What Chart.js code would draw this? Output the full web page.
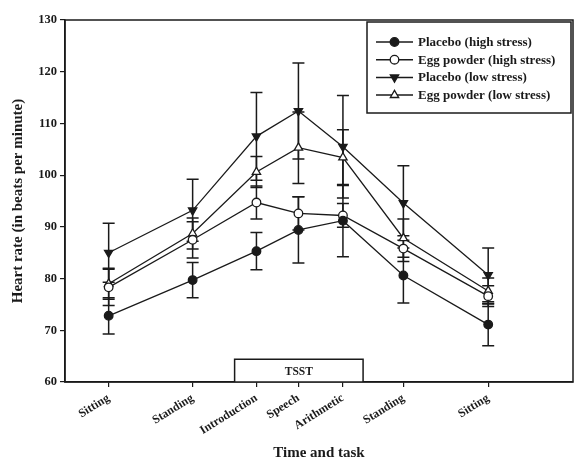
<!DOCTYPE html>
<html>
<head>
<meta charset="utf-8">
<script src="https://cdn.jsdelivr.net/npm/chart.js@4.4.0/dist/chart.umd.min.js"></script>
<style>
  html, body { margin: 0; padding: 0; background: #fff; }
  #wrap { width: 575px; height: 463px; }
</style>
</head>
<body>
<div id="wrap"><canvas id="c" width="575" height="463"></canvas></div>
<script>
// ---- data ----
const categories = ["Sitting", "Standing", "Introduction", "Speech", "Arithmetic", "Standing", "Sitting"];
const xPositions = [1, 2, 2.76, 3.26, 3.79, 4.51, 5.52];
const seriesNames = ["Placebo (high stress)", "Egg powder (high stress)", "Placebo (low stress)", "Egg powder (low stress)"];
const placeboHigh = [72.8, 79.7, 85.3, 89.4, 91.2, 80.6, 71.1];
const placeboHighErr = [3.5, 3.4, 3.6, 6.4, 7.0, 5.3, 4.1];
const eggHigh = [78.3, 87.5, 94.7, 92.6, 92.2, 85.8, 76.6];
const eggHighErr = [3.5, 3.5, 3.2, 3.2, 2.3, 2.5, 2.0];
const placeboLow = [85.0, 93.2, 107.5, 112.4, 105.5, 94.6, 80.7];
const placeboLowErr = [5.7, 6.0, 8.5, 9.3, 9.9, 7.2, 5.2];
const eggLow = [79.0, 88.7, 100.6, 105.3, 103.4, 87.8, 77.6];
const eggLowErr = [3.0, 3.0, 3.0, 6.9, 5.4, 3.7, 2.5];
const yTicks = [60, 70, 80, 90, 100, 110, 120, 130];
const tsstRange = [2.5, 4.03];
const tsstTop = 64.4;

const FONT = "'Liberation Serif', 'Times New Roman', serif";
const INK = '#1a1a1a';

function toPts(vals) { return xPositions.map((x, i) => ({ x: x, y: vals[i] })); }

const styles = [
  { pointStyle: 'circle', fill: INK, radius: 4.3, rotation: 0 },
  { pointStyle: 'circle', fill: '#fff', radius: 4.3, rotation: 0 },
  { pointStyle: 'triangle', fill: INK, radius: 4.8, rotation: 180 },
  { pointStyle: 'triangle', fill: '#fff', radius: 4.8, rotation: 0 }
];
const allVals = [placeboHigh, eggHigh, placeboLow, eggLow];
const allErr = [placeboHighErr, eggHighErr, placeboLowErr, eggLowErr];

const datasets = allVals.map((v, i) => ({
  label: seriesNames[i],
  data: toPts(v),
  errors: allErr[i],
  borderColor: INK,
  borderWidth: 1.3,
  backgroundColor: styles[i].fill,
  pointStyle: styles[i].pointStyle,
  pointRadius: styles[i].radius,
  pointRotation: styles[i].rotation,
  pointBackgroundColor: styles[i].fill,
  pointBorderColor: INK,
  pointBorderWidth: 1.3,
  tension: 0,
  fill: false
}));

const whiteBg = {
  id: 'whiteBg',
  beforeDraw(chart) {
    const ctx = chart.ctx;
    ctx.save();
    ctx.fillStyle = '#fff';
    ctx.fillRect(0, 0, chart.width, chart.height);
    ctx.restore();
  }
};

const extras = {
  id: 'extras',
  beforeDatasetsDraw(chart) {
    const ctx = chart.ctx;
    const xs = chart.scales.x, ys = chart.scales.y;
    // TSST box
    const x0 = xs.getPixelForValue(tsstRange[0]);
    const x1 = xs.getPixelForValue(tsstRange[1]);
    const yb = ys.getPixelForValue(60);
    const yt = ys.getPixelForValue(tsstTop);
    ctx.save();
    ctx.fillStyle = '#fff';
    ctx.strokeStyle = INK;
    ctx.lineWidth = 1.5;
    ctx.fillRect(x0, yt, x1 - x0, yb - yt);
    ctx.beginPath();
    ctx.moveTo(x0, yb); ctx.lineTo(x0, yt); ctx.lineTo(x1, yt); ctx.lineTo(x1, yb);
    ctx.stroke();
    ctx.fillStyle = INK;
    ctx.font = "bold 11.5px " + FONT;
    ctx.textAlign = 'center';
    ctx.textBaseline = 'middle';
    ctx.fillText('TSST', (x0 + x1) / 2, (yt + yb) / 2 + 1);
    // error bars
    ctx.lineWidth = 1.5;
    ctx.strokeStyle = INK;
    chart.data.datasets.forEach((ds) => {
      ds.data.forEach((p, i) => {
        const e = ds.errors[i];
        const px = xs.getPixelForValue(p.x);
        const pTop = ys.getPixelForValue(p.y + e);
        const pBot = ys.getPixelForValue(p.y - e);
        ctx.beginPath();
        ctx.moveTo(px, pTop); ctx.lineTo(px, pBot);
        ctx.moveTo(px - 6, pTop); ctx.lineTo(px + 6, pTop);
        ctx.moveTo(px - 6, pBot); ctx.lineTo(px + 6, pBot);
        ctx.stroke();
      });
    });
    ctx.restore();
  },
  afterDraw(chart) {
    const ctx = chart.ctx;
    const a = chart.chartArea;
    ctx.save();
    ctx.strokeStyle = INK;
    ctx.lineWidth = 1.5;
    ctx.strokeRect(a.left, a.top, a.right - a.left, a.bottom - a.top);
    // legend
    const lx0 = 367, lx1 = 571, ly0 = 22, ly1 = 113;
    ctx.fillStyle = '#fff';
    ctx.fillRect(lx0, ly0, lx1 - lx0, ly1 - ly0);
    ctx.lineWidth = 1.5;
    ctx.strokeRect(lx0, ly0, lx1 - lx0, ly1 - ly0);
    ctx.font = "bold 13px " + FONT;
    ctx.textAlign = 'left';
    ctx.textBaseline = 'middle';
    chart.data.datasets.forEach((ds, i) => {
      const y = 42 + i * 17.7;
      ctx.strokeStyle = INK;
      ctx.lineWidth = 1.5;
      ctx.beginPath();
      ctx.moveTo(376, y); ctx.lineTo(413, y);
      ctx.stroke();
      ctx.fillStyle = ds.pointBackgroundColor;
      ctx.lineWidth = 1.3;
      Chart.helpers.drawPoint(ctx, {
        pointStyle: ds.pointStyle, radius: ds.pointRadius,
        rotation: ds.pointRotation, borderWidth: 1.3
      }, 394.5, y);
      ctx.fillStyle = INK;
      ctx.fillText(ds.label, 418, y + 0.5);
    });
    ctx.restore();
  }
};

new Chart(document.getElementById('c'), {
  type: 'line',
  data: { datasets: datasets },
  options: {
    responsive: false,
    animation: false,
    devicePixelRatio: 1,
    layout: { autoPadding: false, padding: { top: 20, right: 2, left: 0, bottom: 0 } },
    plugins: { legend: { display: false }, tooltip: { enabled: false } },
    scales: {
      x: {
        type: 'linear',
        min: 0.48,
        max: 6.53,
        afterFit(s) { s.height = 81; s.paddingRight = 0; s.paddingLeft = 0; },
        afterBuildTicks(s) { s.ticks = xPositions.map(v => ({ value: v })); },
        grid: { display: true, drawOnChartArea: false, drawTicks: true, tickLength: 5, color: INK, lineWidth: 1.2 },
        border: { display: true, color: INK, width: 1.5 },
        ticks: {
          minRotation: 32, maxRotation: 32, padding: 4, autoSkip: false,
          color: INK, font: { family: FONT, weight: 'bold', size: 12 },
          callback(value, index) { return categories[index]; }
        },
        title: {
          display: true, text: 'Time and task', color: INK,
          font: { family: FONT, weight: 'bold', size: 15 },
          padding: { top: 0, bottom: 1 }
        }
      },
      y: {
        min: 60,
        max: 130,
        afterFit(s) { s.width = 65; s.paddingTop = 0; s.paddingBottom = 0; },
        afterBuildTicks(s) { s.ticks = yTicks.map(v => ({ value: v })); },
        grid: { display: true, drawOnChartArea: false, drawTicks: true, tickLength: 5, color: INK, lineWidth: 1.2 },
        border: { display: true, color: INK, width: 1.5 },
        ticks: { padding: 3, color: INK, font: { family: FONT, weight: 'bold', size: 12.5 } },
        title: {
          display: true, text: 'Heart rate (in beats per minute)', color: INK,
          font: { family: FONT, weight: 'bold', size: 15 },
          padding: { top: 9, bottom: 0 }
        }
      }
    }
  },
  plugins: [whiteBg, extras]
});
</script>
</body>
</html>
